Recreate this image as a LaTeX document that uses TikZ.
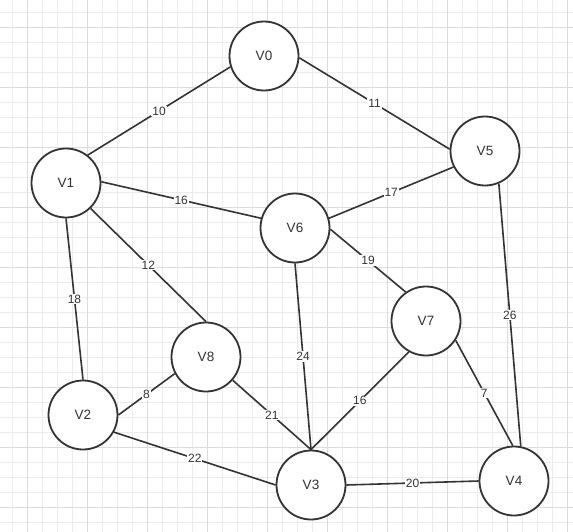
\documentclass[tikz,border=0pt]{standalone}
\usepackage{fontspec}
\setmainfont{Liberation Sans}
\usepackage{tikz}
\definecolor{GraphInk}{RGB}{51,51,51}
\definecolor{GridMinor}{RGB}{236,236,236}
\definecolor{GridMajor}{RGB}{220,220,220}

\begin{document}
\begin{tikzpicture}[x=1pt, y=-1pt,
    vertex/.style={draw=GraphInk, circle, line width=1.8pt, minimum size=69pt, fill=white, text=GraphInk, font=\fontsize{13.5}{16}\selectfont},
    edge/.style={draw=GraphInk, line width=1.6pt},
    weight/.style={fill=white, text=GraphInk, inner sep=1pt, font=\fontsize{12}{14}\selectfont}]
    \useasboundingbox (0,0) rectangle (573,532);
    \fill[white] (0,0) rectangle (573,532);
    % background grid
    \foreach \g in {12.7,27.7,...,573} \draw[GridMinor, line width=1pt] (\g,0) -- (\g,532);
    \foreach \g in {12.7,27.7,...,532} \draw[GridMinor, line width=1pt] (0,\g) -- (573,\g);
    \foreach \g in {27.7,87.7,...,573} \draw[GridMajor, line width=1pt] (\g,0) -- (\g,532);
    \foreach \g in {27.7,87.7,...,532} \draw[GridMajor, line width=1pt] (0,\g) -- (573,\g);

    \node (V0) [vertex] at (264,56) {V0};
    \node (V1) [vertex] at (66,183) {V1};
    \node (V2) [vertex] at (83,415) {V2};
    \node (V3) [vertex] at (311,485) {V3};
    \node (V4) [vertex] at (514,481) {V4};
    \node (V5) [vertex] at (485,151) {V5};
    \node (V6) [vertex] at (295,228) {V6};
    \node (V7) [vertex] at (426,321) {V7};
    \node (V8) [vertex] at (206,357) {V8};

    \draw[edge] (V1.52) -- node[weight] {10} (V0.198);
    \draw[edge] (V0.-3) -- node[weight] {11} (V5.177);
    \draw[edge] (V1.2) -- node[weight] {16} (V6.164);
    \draw[edge] (V1.-46) -- node[weight] {12} (V8.90);
    \draw[edge] (V1.-90) -- node[weight] {18} (V2.90);
    \draw[edge] (V6.16) -- node[weight] {17} (V5.207);
    \draw[edge] (V6.-2) -- node[weight] {19} (V7.125);
    \draw[edge] (V6.-90) -- node[weight] {24} (V3.90);
    \draw[edge] (V5.-67) -- node[weight] {26} (V4.79);
    \draw[edge] (V7.-119) -- node[weight] {16} (V3.90);
    \draw[edge] (V7.-33) -- node[weight] {7} (V4.92);
    \draw[edge] (V2.0) -- node[weight] {8} (V8.208);
    \draw[edge] (V8.-41) -- node[weight] {21} (V3.90);
    \draw[edge] (V2.-29) -- node[weight] {22} (V3.180);
    \draw[edge] (V3.0) -- node[weight] {20} (V4.180);
\end{tikzpicture}
\end{document}
